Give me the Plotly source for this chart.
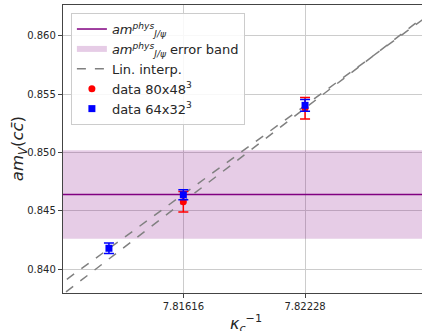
import numpy as np
import plotly.graph_objects as go

# ---- data ----
kinv_80 = [7.81616, 7.82228]
am_80 = [0.84577, 0.85380]
err_80 = [0.00088, 0.00092]

kinv_64 = [7.81242, 7.81616, 7.82228]
am_64 = [0.84178, 0.84637, 0.85405]
err_64 = [0.00046, 0.00043, 0.00050]

am_phys = 0.84640
am_phys_err = 0.00380

x_range = [7.81011, 7.82816]
y_range = [0.83794, 0.86266]
x_ticks = [7.81616, 7.82228]
x_ticklabels = ["7.81616", "7.82228"]
y_ticks = [0.840, 0.845, 0.850, 0.855, 0.860]

FONT = "DejaVu Sans"
fig = go.Figure()

# error band
bx = [x_range[0] - 0.01, x_range[1] + 0.01, x_range[1] + 0.01, x_range[0] - 0.01, x_range[0] - 0.01]
by = [am_phys - am_phys_err, am_phys - am_phys_err, am_phys + am_phys_err, am_phys + am_phys_err, am_phys - am_phys_err]
fig.add_trace(go.Scatter(x=bx, y=by, fill="toself", mode="none",
                         fillcolor="rgba(128,0,128,0.2)",
                         name="<i>am</i><sup><i>phys</i></sup><sub><i>J/ψ</i></sub> error band",
                         legendrank=2))
# phys line
fig.add_trace(go.Scatter(x=[x_range[0] - 0.01, x_range[1] + 0.01], y=[am_phys, am_phys],
                         mode="lines", line=dict(color="#800080", width=1.5),
                         name="<i>am</i><sup><i>phys</i></sup><sub><i>J/ψ</i></sub>",
                         legendrank=1))

# linear interpolations
xl = np.array([x_range[0] - 0.002, x_range[1] + 0.002])
for i, (kx, ky) in enumerate([(kinv_80, am_80), (kinv_64, am_64)]):
    p = np.polyfit(kx, ky, 1)
    fig.add_trace(go.Scatter(x=xl, y=np.polyval(p, xl), mode="lines",
                             line=dict(color="#808080", width=1.5, dash="dash"),
                             name="Lin. interp.", legendgroup="interp",
                             showlegend=(i == 0), legendrank=3))

fig.add_trace(go.Scatter(x=kinv_80, y=am_80, mode="markers",
                         marker=dict(color="red", symbol="circle", size=7),
                         error_y=dict(type="data", array=err_80, color="red", width=5, thickness=1.5),
                         name="data 80x48<sup>3</sup>", legendrank=4))
fig.add_trace(go.Scatter(x=kinv_64, y=am_64, mode="markers",
                         marker=dict(color="blue", symbol="square", size=7),
                         error_y=dict(type="data", array=err_64, color="blue", width=5, thickness=1.5),
                         name="data 64x32<sup>3</sup>", legendrank=5))

axis_common = dict(showline=True, linecolor="#444", linewidth=1.3,
                   ticks="outside", ticklen=4, tickcolor="#444",
                   showgrid=True, gridcolor="#cccccc", gridwidth=1,
                   zeroline=False, automargin=False,
                   tickfont=dict(family=FONT, size=10, color="#262626"))

fig.update_xaxes(range=x_range, tickvals=x_ticks, ticktext=x_ticklabels, mirror=True,
                 **axis_common)
fig.update_yaxes(range=y_range, tickvals=y_ticks, tickformat=".3f",
                 **axis_common)

fig.add_annotation(text="<i>am</i><sub><i>V</i></sub>(<i>c</i><i>c̄</i>)",
                   xref="paper", yref="paper", x=-0.125, y=0.5,
                   xanchor="center", yanchor="middle", textangle=-90, showarrow=False,
                   font=dict(family=FONT, size=16.5, color="#262626"))
fig.add_annotation(text="<i>κ</i><sub><i>c</i></sub><sup>−1</sup>",
                   xref="paper", yref="paper", x=0.51, y=-0.060,
                   xanchor="center", yanchor="top", showarrow=False,
                   font=dict(family=FONT, size=16, color="#262626"))

fig.update_layout(
    width=422, height=331,
    margin=dict(l=63, r=0, t=5, b=38),
    plot_bgcolor="white", paper_bgcolor="white",
    font=dict(family=FONT, size=13, color="#262626"),
    legend=dict(x=0.022, y=0.972, xanchor="left", yanchor="top",
                bgcolor="rgba(255,255,255,0.85)", bordercolor="#cccccc", borderwidth=1,
                font=dict(family=FONT, size=13), tracegroupgap=0, itemwidth=30),
    showlegend=True,
)

fig.write_html("out.html", config={"displayModeBar": False},
               post_script="document.body.style.margin='0px';document.body.style.overflow='hidden';")
